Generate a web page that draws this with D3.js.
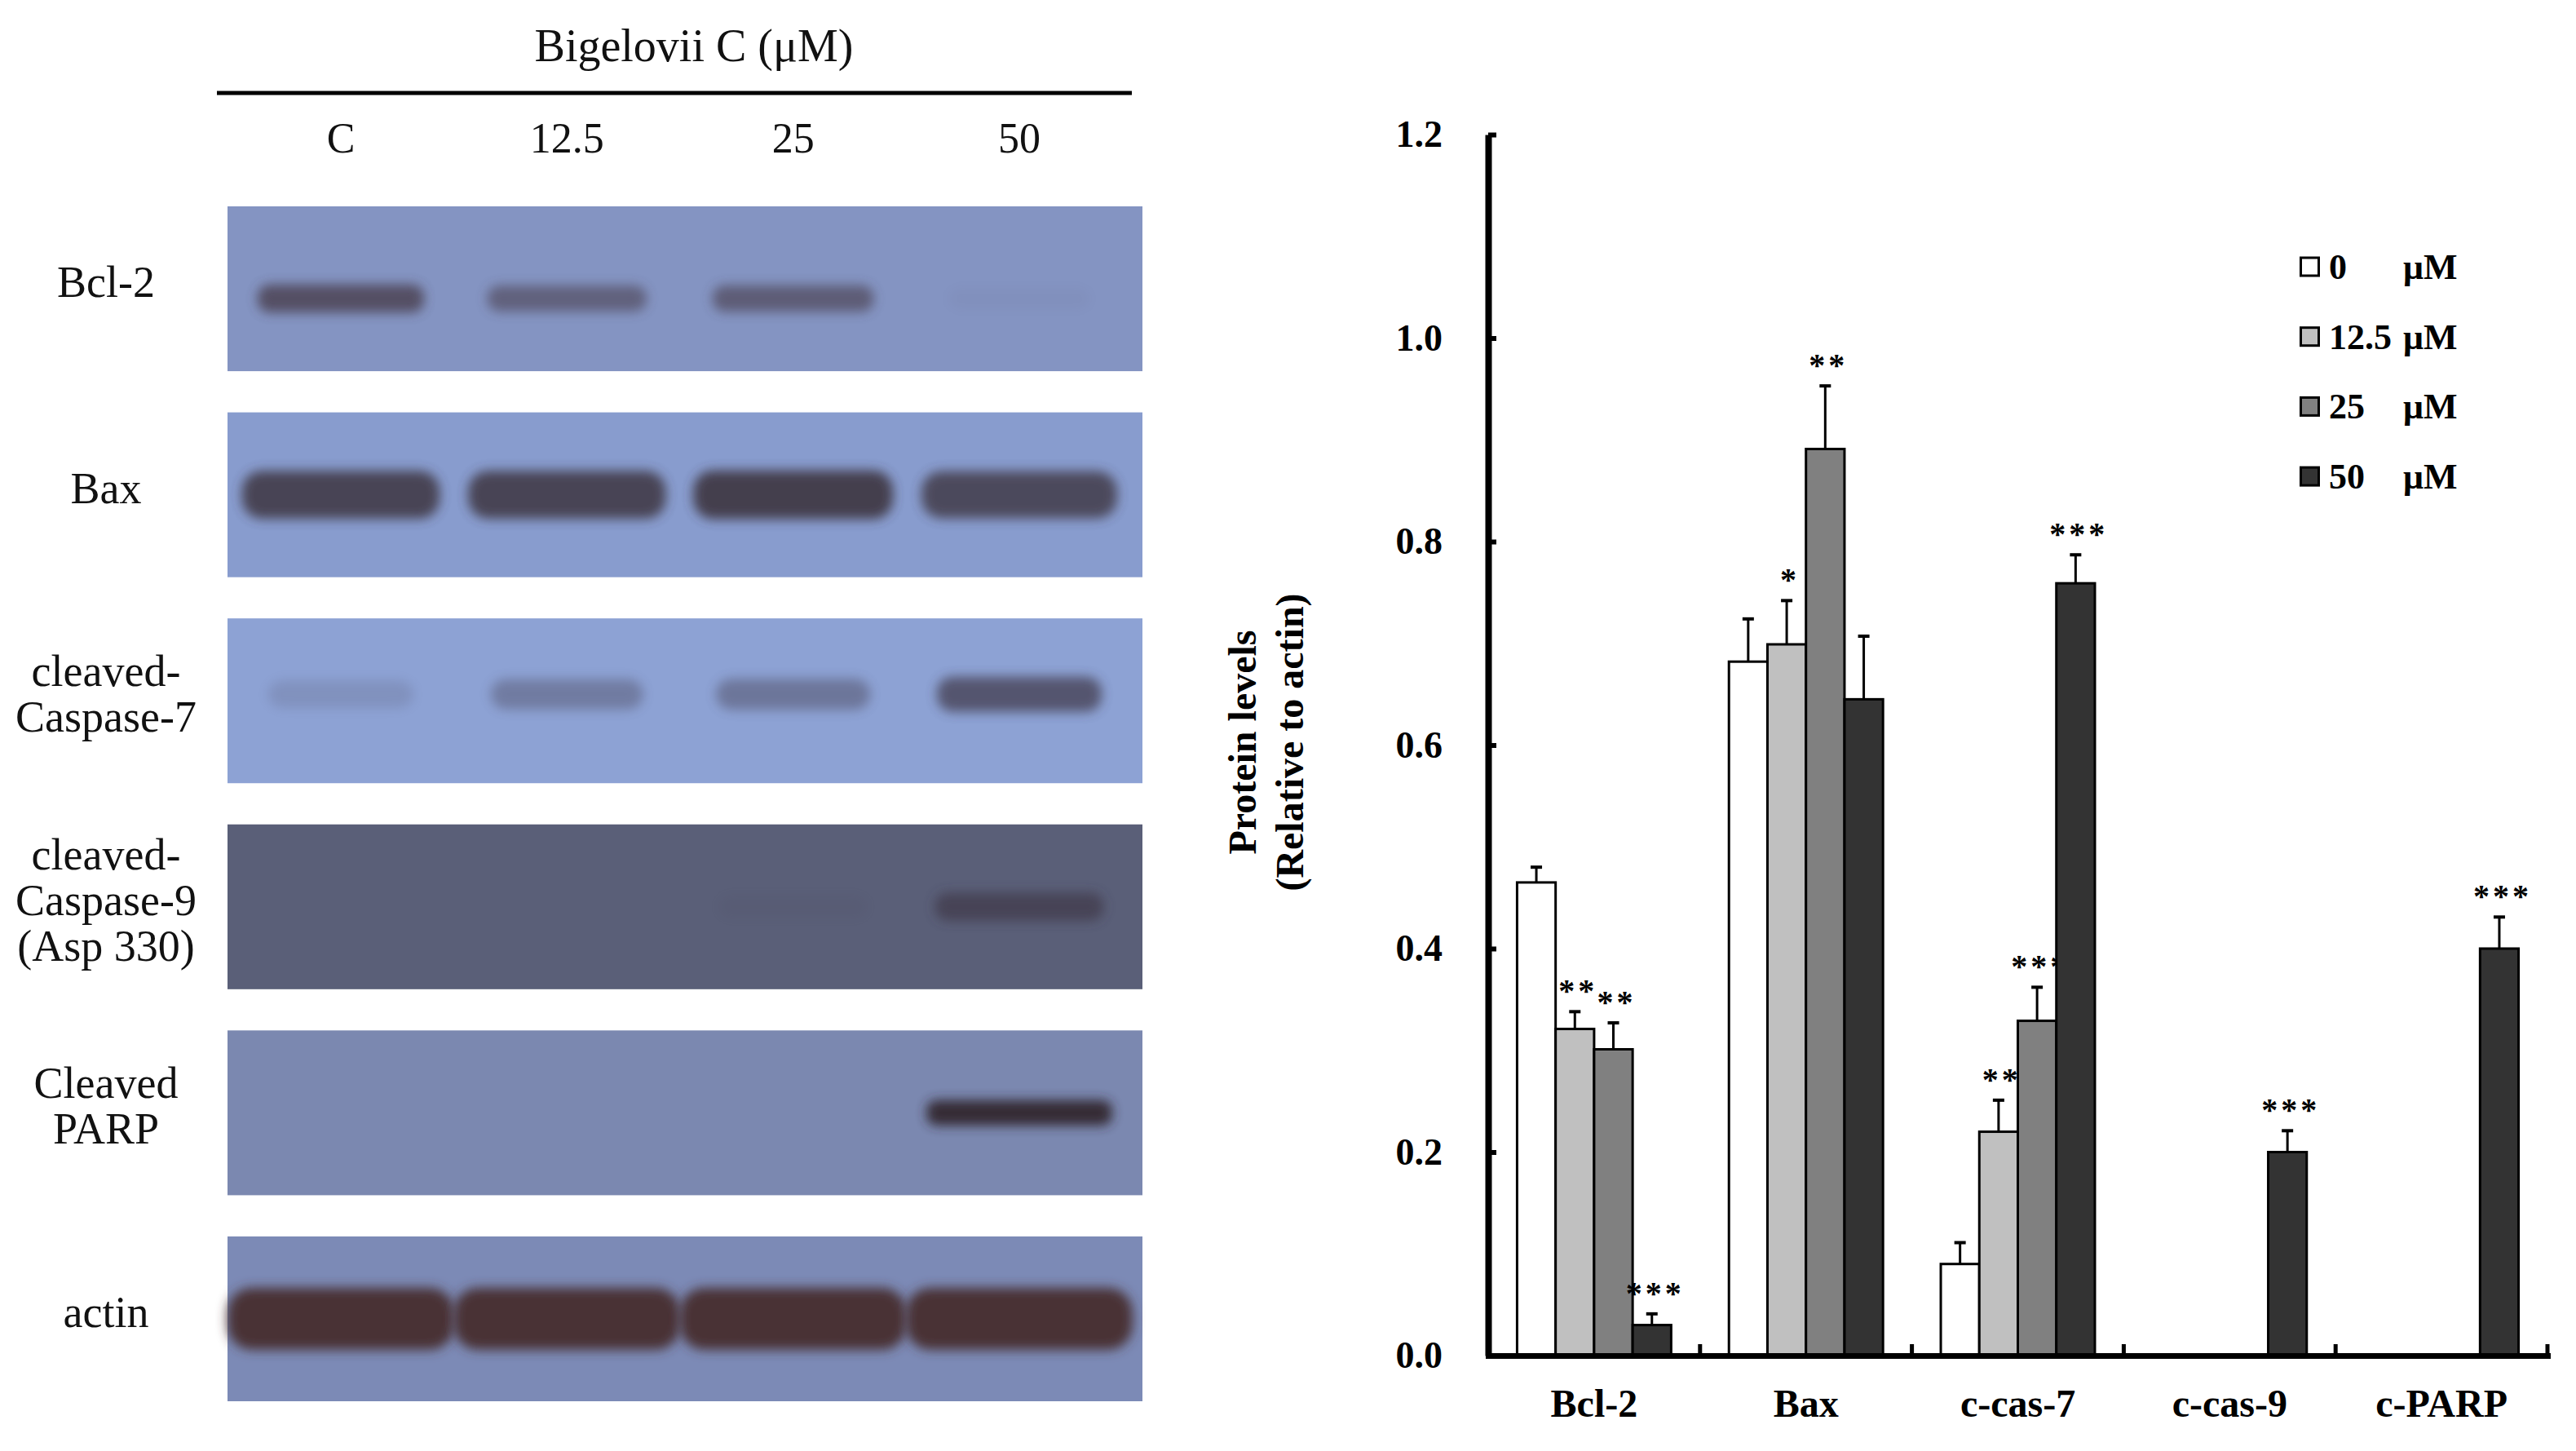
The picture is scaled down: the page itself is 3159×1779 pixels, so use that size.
<!DOCTYPE html>
<html>
<head>
<meta charset="utf-8">
<script src="https://cdn.jsdelivr.net/npm/d3@7"></script>
<style>
  body { margin: 0; background: #fff; }
  text { font-family: "Liberation Serif", "Times New Roman", serif; }
</style>
</head>
<body>
<script>
// ---- chart data ----
var categories = ["Bcl-2", "Bax", "c-cas-7", "c-cas-9", "c-PARP"];
var doses = ["0", "12.5", "25", "50"];
var yTicks = [0, 0.2, 0.4, 0.6, 0.8, 1.0, 1.2];

var dose0  = [0.465, 0.682, 0.090, 0, 0];
var dose12 = [0.321, 0.699, 0.220, 0, 0];
var dose25 = [0.301, 0.891, 0.329, 0, 0];
var dose50 = [0.030, 0.645, 0.759, 0.200, 0.400];

var err0  = [0.015, 0.042, 0.021, 0, 0];
var err12 = [0.017, 0.043, 0.031, 0, 0];
var err25 = [0.026, 0.062, 0.033, 0, 0];
var err50 = [0.011, 0.062, 0.028, 0.021, 0.031];

var sig0  = ["", "", "", "", ""];
var sig12 = ["**", "*", "**", "", ""];
var sig25 = ["**", "**", "***", "", ""];
var sig50 = ["***", "", "***", "***", "***"];

// ---- blot data ----
var lanes = ["C", "12.5", "25", "50"];
var blotRows = ["Bcl-2", "Bax", "c-cas-7", "c-cas-9", "PARP", "actin"];
var blotLabels = [["Bcl-2"], ["Bax"], ["cleaved-", "Caspase-7"],
                  ["cleaved-", "Caspase-9", "(Asp 330)"], ["Cleaved", "PARP"], ["actin"]];
var bandBcl2  = [0.75, 0.55, 0.60, 0.04];
var bandBax   = [0.85, 0.85, 0.90, 0.80];
var bandCas7  = [0.15, 0.35, 0.40, 0.70];
var bandCas9  = [0.00, 0.00, 0.06, 0.60];
var bandParp  = [0.00, 0.00, 0.00, 0.95];
var bandActin = [1.00, 1.00, 1.00, 1.00];

var bandValues = [bandBcl2, bandBax, bandCas7, bandCas9, bandParp, bandActin];
var means = [dose0, dose12, dose25, dose50];
var errs = [err0, err12, err25, err50];
var sigs = [sig0, sig12, sig25, sig50];

// styles
var barColors = ["#ffffff", "#c0c0c0", "#808080", "#333333"];
var blotTones = ["#8494c2", "#889cce", "#8da2d4", "#5a5f78", "#7b88b0", "#7c8ab6"];
var bandTones = ["#453844", "#3e3540", "#3c3444", "#3a3040", "#30282e", "#4a3234"];
var bandW = [215, 250, 215, 225, 230, 278];
var bandH = [38, 62, 48, 40, 32, 76];
var bandDy = [12, 0, -8, 0, 0, 0];

var w = 3159;
var h = 1779;

var svg = d3.select("body")
  .append("svg")
  .attr("width", w)
  .attr("height", h);

var defs = svg.append("defs");
defs.append("filter")
  .attr("id", "blur")
  .attr("x", "-30%").attr("y", "-80%")
  .attr("width", "160%").attr("height", "260%")
  .append("feGaussianBlur")
  .attr("stdDeviation", 7);

/* ===== WESTERN BLOT PANEL ===== */

var blot = svg.append("g");

var laneX = d3.scalePoint()
  .domain(lanes)
  .range([418, 1250]);

var rowY = d3.scaleBand()
  .domain(blotRows)
  .range([253, 1718])
  .paddingInner(0.2);

blot.append("text")
  .attr("x", 851)
  .attr("y", 75)
  .attr("text-anchor", "middle")
  .attr("font-size", "56px")
  .attr("fill", "#111")
  .text("Bigelovii C (\u03bcM)");

blot.append("line")
  .attr("x1", 266).attr("x2", 1388)
  .attr("y1", 114).attr("y2", 114)
  .attr("stroke", "#000")
  .attr("stroke-width", 5);

blot.selectAll("text.lane")
  .data(lanes)
  .enter()
  .append("text")
  .attr("class", "lane")
  .attr("x", function (d) { return laneX(d); })
  .attr("y", 187)
  .attr("text-anchor", "middle")
  .attr("font-size", "52px")
  .attr("fill", "#111")
  .text(function (d) { return d; });

var rows = blot.selectAll("g.row")
  .data(blotRows)
  .enter()
  .append("g")
  .attr("class", "row");

rows.append("rect")
  .attr("x", 279)
  .attr("y", function (d) { return rowY(d); })
  .attr("width", 1122)
  .attr("height", rowY.bandwidth())
  .attr("fill", function (d, i) { return blotTones[i]; });

rows.each(function (d, i) {
  var cy = rowY(d) + rowY.bandwidth() / 2;
  var by = cy + bandDy[i];
  d3.select(this).selectAll("rect.band")
    .data(bandValues[i])
    .enter()
    .append("rect")
    .attr("class", "band")
    .attr("x", function (v, j) { return laneX(lanes[j]) - bandW[i] * (0.8 + 0.2 * v) / 2; })
    .attr("y", function (v) { return by - bandH[i] * (0.65 + 0.35 * v) / 2; })
    .attr("width", function (v) { return bandW[i] * (0.8 + 0.2 * v); })
    .attr("height", function (v) { return bandH[i] * (0.65 + 0.35 * v); })
    .attr("rx", bandH[i] * 0.4)
    .attr("fill", bandTones[i])
    .attr("opacity", function (v) { return v; })
    .attr("filter", "url(#blur)");

  var lines = blotLabels[i];
  d3.select(this).selectAll("text")
    .data(lines)
    .enter()
    .append("text")
    .attr("x", 130)
    .attr("y", function (t, k) { return cy + 10 + (k - (lines.length - 1) / 2) * 56; })
    .attr("text-anchor", "middle")
    .attr("font-size", "54px")
    .attr("fill", "#111")
    .text(function (t) { return t; });
});

/* ===== BAR CHART ===== */

var x0 = d3.scaleBand()
  .domain(categories)
  .range([1825, 3124]);

var x1 = d3.scaleBand()
  .domain(doses)
  .range([0, x0.bandwidth()])
  .paddingOuter(0.75);

var yScale = d3.scaleLinear()
  .domain([0, 1.2])
  .range([1662, 165]);

var chart = svg.append("g");

var bars = [];
doses.forEach(function (dose, j) {
  categories.forEach(function (cat, i) {
    bars.push({cat: cat, dose: dose, j: j, v: means[j][i], e: errs[j][i], s: sigs[j][i]});
  });
});
bars = bars.filter(function (d) { return d.v > 0; });

var group = chart.selectAll("g.bar")
  .data(bars)
  .enter()
  .append("g")
  .attr("class", "bar")
  .attr("transform", function (d) { return "translate(" + (x0(d.cat) + x1(d.dose)) + ",0)"; });

var bw = x1.bandwidth();

// error bars first so the bar outline covers their base
group.append("line")
  .attr("x1", bw / 2).attr("x2", bw / 2)
  .attr("y1", function (d) { return yScale(d.v); })
  .attr("y2", function (d) { return yScale(d.v + d.e); })
  .attr("stroke", "#000")
  .attr("stroke-width", 3);

group.append("line")
  .attr("x1", bw / 2 - 7).attr("x2", bw / 2 + 7)
  .attr("y1", function (d) { return yScale(d.v + d.e); })
  .attr("y2", function (d) { return yScale(d.v + d.e); })
  .attr("stroke", "#000")
  .attr("stroke-width", 4);

group.append("rect")
  .attr("x", 0)
  .attr("y", function (d) { return yScale(d.v); })
  .attr("width", bw)
  .attr("height", function (d) { return yScale(0) - yScale(d.v); })
  .attr("fill", function (d) { return barColors[d.j]; })
  .attr("stroke", "#000")
  .attr("stroke-width", 3);

group.append("text")
  .attr("x", bw / 2 + 4)
  .attr("y", function (d) { return yScale(d.v + d.e) - 12; })
  .attr("text-anchor", "middle")
  .attr("font-size", "40px")
  .attr("font-weight", "bold")
  .attr("letter-spacing", "4px")
  .attr("fill", "#000")
  .text(function (d) { return d.s; });

/* ===== AXES ===== */

var yAxis = d3.axisLeft(yScale)
  .tickValues(yTicks)
  .tickSize(-10)
  .tickSizeOuter(0)
  .tickPadding(56)
  .tickFormat(d3.format(".1f"));

var yG = chart.append("g")
  .attr("transform", "translate(1825,0)")
  .call(yAxis);
yG.select(".domain").attr("stroke-width", 8);
yG.selectAll(".tick line").attr("stroke-width", 6);
yG.selectAll(".tick text")
  .attr("font-family", "Liberation Serif, serif")
  .attr("font-size", "46px")
  .attr("font-weight", "bold")
  .attr("fill", "#000");

var xAxis = d3.axisBottom(x0)
  .tickSize(0)
  .tickSizeOuter(0)
  .tickPadding(41);

var xG = chart.append("g")
  .attr("transform", "translate(0,1662)")
  .call(xAxis);
xG.select(".domain")
  .attr("stroke-width", 7)
  .attr("stroke-linecap", "square");
xG.selectAll(".tick text")
  .attr("font-family", "Liberation Serif, serif")
  .attr("font-size", "48px")
  .attr("font-weight", "bold")
  .attr("fill", "#000");

// category separator ticks on the x axis
xG.selectAll("line.sep")
  .data(categories)
  .enter()
  .append("line")
  .attr("class", "sep")
  .attr("x1", function (d) { return x0(d) + x0.bandwidth(); })
  .attr("x2", function (d) { return x0(d) + x0.bandwidth(); })
  .attr("y1", 0)
  .attr("y2", -14)
  .attr("stroke", "#000")
  .attr("stroke-width", 5);

// y axis title
var yTitle = ["Protein levels", "(Relative to actin)"];
chart.selectAll("text.ytitle")
  .data(yTitle)
  .enter()
  .append("text")
  .attr("class", "ytitle")
  .attr("transform", function (d, i) { return "translate(" + (1540 + i * 58) + ",910) rotate(-90)"; })
  .attr("text-anchor", "middle")
  .attr("font-size", "48px")
  .attr("font-weight", "bold")
  .attr("fill", "#000")
  .text(function (d) { return d; });

/* ===== LEGEND ===== */

var legend = chart.selectAll("g.legend")
  .data(doses)
  .enter()
  .append("g")
  .attr("class", "legend")
  .attr("transform", function (d, i) { return "translate(2820," + (327 + i * 85.7) + ")"; });

legend.append("rect")
  .attr("x", 1.5).attr("y", -11)
  .attr("width", 22).attr("height", 22)
  .attr("fill", function (d, i) { return barColors[i]; })
  .attr("stroke", "#000")
  .attr("stroke-width", 3);

legend.append("text")
  .attr("x", 36)
  .attr("y", 15)
  .attr("font-size", "44px")
  .attr("font-weight", "bold")
  .text(function (d) { return d; });

legend.append("text")
  .attr("x", 127)
  .attr("y", 15)
  .attr("font-size", "44px")
  .attr("font-weight", "bold")
  .text("\u03bcM");
</script>
</body>
</html>
